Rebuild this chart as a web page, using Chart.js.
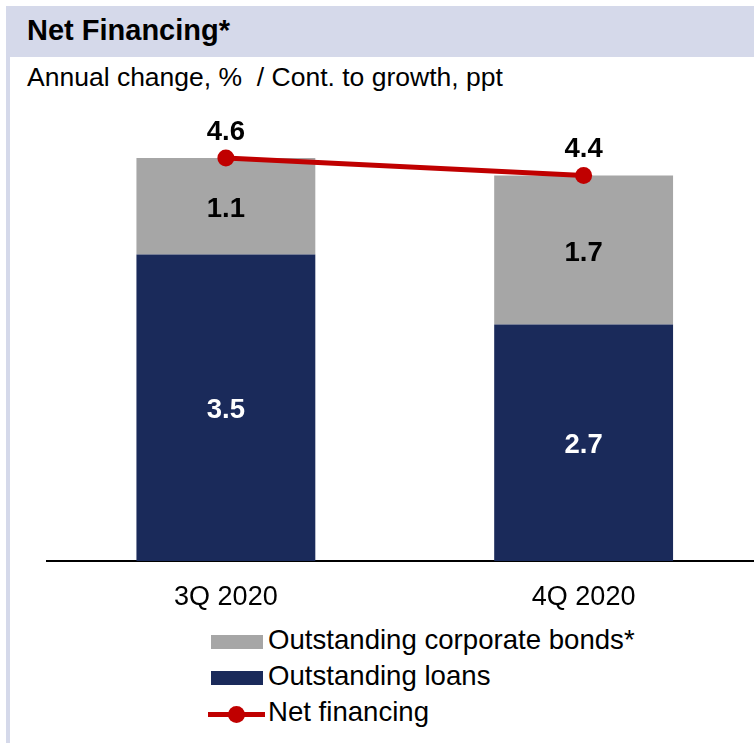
<!DOCTYPE html>
<html>
<head>
<meta charset="utf-8">
<script src="https://cdn.jsdelivr.net/npm/chart.js@4/dist/chart.umd.min.js"></script>
<style>
  html, body { margin: 0; padding: 0; background: #fff; width: 754px; height: 743px; overflow: hidden; font-family: "Liberation Sans", Arial, sans-serif; }
  #header { position: absolute; left: 6px; top: 6px; width: 748px; height: 51px; background: #d5d9ea; }
  #header span { position: absolute; left: 21px; top: 8px; font-size: 29px; font-weight: bold; color: #000; }
  #leftrule { position: absolute; left: 6px; top: 57px; width: 4px; height: 686px; background: #d5d9ea; }
  #subtitle { position: absolute; left: 27px; top: 62px; font-size: 26.5px; color: #000; white-space: nowrap; }
  #wrap { position: absolute; left: 0; top: 0; width: 771px; height: 620px; }
  #legend { position: absolute; left: 206px; top: 624px; }
  .row { position: relative; height: 36px; width: 540px; }
  .sw { position: absolute; left: 5px; top: 11px; width: 52px; height: 14px; }
  .ln { position: absolute; left: 2px; top: 16px; width: 57px; height: 5px; }
  .dot { position: absolute; left: 22px; top: 10px; width: 17px; height: 17px; border-radius: 50%; }
  .txt { position: absolute; left: 62px; top: 0px; font-size: 27.6px; color: #000; white-space: nowrap; }
</style>
</head>
<body>
<div id="header"><span>Net Financing*</span></div>
<div id="leftrule"></div>
<div id="subtitle">Annual change, %&nbsp; / Cont. to growth, ppt</div>
<div id="wrap"><canvas id="c" width="771" height="620"></canvas></div>
<div id="legend"></div>
<script>
// Quarters shown on the x axis
const quarters = ['3Q 2020', '4Q 2020'];
// Contributions to growth, ppt
const loans = [3.5, 2.7];
const bonds = [1.1, 1.7];
// Annual change of net financing, %
const netFinancing = [4.6, 4.4];

const NAVY = '#1a2a5a';
const GREY = '#a6a6a6';
const RED = '#c00000';

// Writes the value of each mark next to it
const valueLabels = {
  id: 'valueLabels',
  afterDatasetsDraw(chart) {
    const ctx = chart.ctx;
    ctx.save();
    ctx.font = 'bold 27.5px "Liberation Sans", Arial, sans-serif';
    ctx.textAlign = 'center';
    ctx.textBaseline = 'middle';
    chart.data.datasets.forEach((ds, i) => {
      const meta = chart.getDatasetMeta(i);
      meta.data.forEach((el, j) => {
        const v = ds.data[j];
        const txt = v.toFixed(1);
        if (ds.type === 'line') {
          ctx.fillStyle = '#000';
          ctx.fillText(txt, el.x, el.y - 26);
        } else {
          ctx.fillStyle = ds.labelColor;
          ctx.fillText(txt, el.x, (el.y + el.base) / 2 + 3);
        }
      });
    });
    ctx.restore();
  }
};

const chart = new Chart(document.getElementById('c'), {
  type: 'bar',
  data: {
    labels: quarters,
    datasets: [
      // loans sit at the bottom of each stack, bonds above them
      { label: 'Outstanding loans', data: loans, backgroundColor: NAVY, labelColor: '#fff', order: 1 },
      { label: 'Outstanding corporate bonds*', data: bonds, backgroundColor: GREY, labelColor: '#000', order: 2 },
      { type: 'line', label: 'Net financing', data: netFinancing, borderColor: RED, backgroundColor: RED,
        borderWidth: 5, pointRadius: 8.5, pointHoverRadius: 8.5, pointBackgroundColor: RED, pointBorderWidth: 0, order: 0 }
    ]
  },
  options: {
    responsive: false,
    animation: false,
    events: [],
    layout: { padding: { left: 47, right: 4, top: 123, bottom: 0 } },
    datasets: { bar: { barPercentage: 0.5, categoryPercentage: 1.0 } },
    plugins: { legend: { display: false }, tooltip: { enabled: false } },
    scales: {
      x: {
        stacked: true,
        grid: { display: false, drawTicks: false },
        border: { display: true, color: '#000', width: 2 },
        ticks: { color: '#000', padding: 20, font: { family: '"Liberation Sans", Arial, sans-serif', size: 27 } },
        afterFit(s) { s.height = 59; }
      },
      y: {
        stacked: true,
        display: false,
        min: 0,
        max: 5
      }
    }
  },
  plugins: [valueLabels]
});

// Legend, in the order bonds, loans, net financing
const legend = document.getElementById('legend');
[1, 0, 2].forEach(i => {
  const ds = chart.data.datasets[i];
  const row = document.createElement('div');
  row.className = 'row';
  if (ds.type === 'line') {
    row.innerHTML = '<div class="ln" style="background:' + RED + '"></div><div class="dot" style="background:' + RED + '"></div>';
  } else {
    row.innerHTML = '<div class="sw" style="background:' + ds.backgroundColor + '"></div>';
  }
  const t = document.createElement('div');
  t.className = 'txt';
  t.textContent = ds.label;
  row.appendChild(t);
  legend.appendChild(row);
});
</script>
</body>
</html>
